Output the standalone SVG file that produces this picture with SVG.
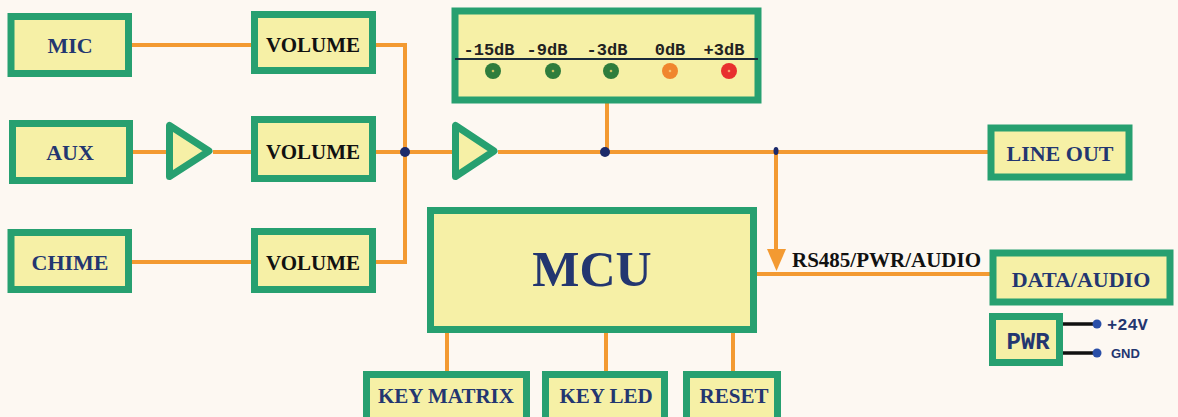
<svg xmlns="http://www.w3.org/2000/svg" width="1178" height="417" viewBox="0 0 1178 417">
<style>
.box{fill:#f6f0a6;stroke:#27a070;stroke-width:7}
.w{fill:none;stroke:#f39a32;stroke-width:4}
.t{font-family:"Liberation Serif",serif;font-weight:bold;font-size:22px;fill:#233670;text-anchor:middle}
.v{font-family:"Liberation Serif",serif;font-weight:bold;font-size:21px;fill:#111;text-anchor:middle}
.m{font-family:"Liberation Mono",monospace;font-weight:bold;font-size:17px;fill:#222;text-anchor:middle}
.amp{fill:#f6f0a6;stroke:#27a070;stroke-width:7;stroke-linejoin:round}
.dot{fill:#1c2a6b}
</style>
<rect width="1178" height="417" fill="#fdf8f2"/>
<g id="connectors">
<path class="w" d="M132 45H251M376 45H405V262H376M132 262H251M133 152H169M213 152H251M376 152H455M498 152H988M607 103V152M757 274H990M447 333V371M606 333V371M733 333V371"/>
<path class="w" d="M776 152V252"/>
<path d="M767 249L786 249L776.5 271Z" fill="#f39a32"/>
<circle class="dot" cx="405" cy="152" r="5"/>
<circle class="dot" cx="605" cy="152" r="5"/>
<ellipse class="dot" cx="776" cy="151" rx="2.5" ry="4"/>
<path d="M1063 324H1095M1063 353H1095" stroke="#111" stroke-width="3.5"/>
<circle cx="1097" cy="324" r="4.5" fill="#2a4fa8"/>
<circle cx="1097" cy="353" r="4.5" fill="#2a4fa8"/>
<text x="792" y="267" font-family="Liberation Serif,serif" font-weight="bold" font-size="21" fill="#111">RS485/PWR/AUDIO</text>
</g>
<g id="mic"><rect class="box" x="11" y="16.5" width="117.5" height="57"/><text class="t" x="70" y="53">MIC</text></g>
<g id="aux"><rect class="box" x="12.5" y="123.5" width="117" height="57"/><text class="t" x="70" y="160">AUX</text></g>
<g id="chime"><rect class="box" x="11" y="232.5" width="117.5" height="57"/><text class="t" x="70" y="270">CHIME</text></g>
<g id="vol1"><rect class="box" x="254.5" y="14.5" width="118" height="56"/><text class="v" x="313" y="52">VOLUME</text></g>
<g id="vol2"><rect class="box" x="254.5" y="119.5" width="118" height="59"/><text class="v" x="313" y="159">VOLUME</text></g>
<g id="vol3"><rect class="box" x="254.5" y="231.5" width="118" height="58"/><text class="v" x="313" y="270">VOLUME</text></g>
<g id="amp1"><path class="amp" d="M169.5 125.5L169.5 176.5L209 151Z"/></g>
<g id="amp2"><path class="amp" d="M455.5 125.5L455.5 176.5L494 151Z"/></g>
<g id="meter">
<rect class="box" x="455" y="11" width="303" height="89"/>
<path d="M455 59H758" stroke="#1a2a3a" stroke-width="2"/>
<text class="m" x="489" y="55">-15dB</text>
<text class="m" x="547" y="55">-9dB</text>
<text class="m" x="607" y="55">-3dB</text>
<text class="m" x="670" y="55">0dB</text>
<text class="m" x="724" y="55">+3dB</text>
<circle cx="493" cy="71" r="8" fill="#2e7d3c"/><circle cx="493" cy="71" r="1.3" fill="#c9c060"/>
<circle cx="553" cy="71" r="8" fill="#2e7d3c"/><circle cx="553" cy="71" r="1.3" fill="#c9c060"/>
<circle cx="611" cy="71" r="8" fill="#2e7d3c"/><circle cx="611" cy="71" r="1.3" fill="#c9c060"/>
<circle cx="670" cy="71" r="8" fill="#f0862e"/><circle cx="670" cy="71" r="1.3" fill="#f8c070"/>
<circle cx="729" cy="71" r="8" fill="#e8302e"/><circle cx="729" cy="71" r="1.3" fill="#f8a070"/>
</g>
<g id="lineout"><rect class="box" x="991" y="128" width="138" height="49"/><text class="t" x="1060" y="161">LINE OUT</text></g>
<g id="mcu"><rect class="box" x="430.5" y="210.5" width="323" height="119"/><text class="t" x="592" y="286" style="font-size:50px">MCU</text></g>
<g id="data"><rect class="box" x="993" y="253" width="177" height="49"/><text class="t" x="1081" y="287">DATA/AUDIO</text></g>
<g id="pwr"><rect class="box" x="992.5" y="316.5" width="67" height="46"/><text x="1028" y="349" font-family="Liberation Mono,monospace" font-weight="bold" font-size="24" fill="#233670" text-anchor="middle">PWR</text>
<text x="1107" y="330" font-family="Liberation Mono,monospace" font-weight="bold" font-size="17" fill="#233670">+24V</text>
<text x="1111" y="358" font-family="Liberation Sans,sans-serif" font-weight="bold" font-size="13" fill="#233670">GND</text></g>
<g id="keymatrix"><rect class="box" x="366.5" y="374.5" width="160" height="46"/><text class="t" x="446" y="403" style="font-size:21px">KEY MATRIX</text></g>
<g id="keyled"><rect class="box" x="545.5" y="374.5" width="119" height="46"/><text class="t" x="606" y="403" style="font-size:21px">KEY LED</text></g>
<g id="reset"><rect class="box" x="686.5" y="374.5" width="91" height="46"/><text class="t" x="734" y="403" style="font-size:21px">RESET</text></g>
</svg>
